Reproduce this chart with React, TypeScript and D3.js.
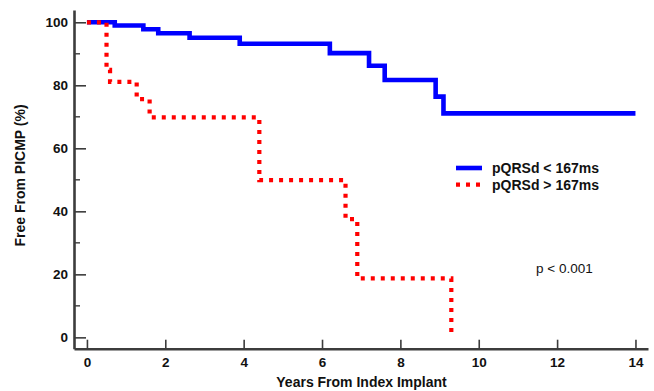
import { useEffect, useRef } from "react";
import * as d3 from "d3";

// Kaplan-Meier steps
const lowTimes = [0, 0.71, 1.44, 1.82, 2.62, 3.9, 6.2, 7.2, 7.6, 8.9, 9.1, 14];
const lowFree = [100, 99, 97.8, 96.5, 95.1, 93.2, 90.2, 86.2, 81.7, 76.4, 71.1, 71.1];
const highTimes = [0, 0.5, 0.59, 1.27, 1.6, 4.4, 6.6, 6.9, 9.3, 9.3];
const highFree = [100, 84.9, 81.1, 75.6, 69.8, 49.9, 37.5, 18.7, 18.7, 0];

const xTicks = [0, 2, 4, 6, 8, 10, 12, 14];
const yTicks = [0, 20, 40, 60, 80, 100];
const yMinorTicks = [10, 30, 50, 70, 90];
const seriesLabels = ["pQRSd < 167ms", "pQRSd > 167ms"];

const FONT = "'Liberation Sans', Arial, Helvetica, sans-serif";
const AXIS = "#3c3c3c";

export default function App() {
  const ref = useRef<SVGSVGElement>(null);

  useEffect(() => {
    if (!ref.current) return;
    const svg = d3.select(ref.current);
    svg.selectAll("*").remove();

    const x = d3.scaleLinear().domain([-0.33, 14.32]).range([74, 648]);
    const y = d3.scaleLinear().domain([-3.6, 103.9]).range([348.7, 10]);

    // Y axis, ticks pointing inward
    const yAxis = svg.append("g").attr("transform", `translate(${x(-0.33)},0)`);
    yAxis.call(
      d3.axisLeft(y).tickValues(yTicks).tickSize(-12).tickSizeOuter(0).tickPadding(6)
    );
    yAxis.select(".domain").attr("stroke", AXIS).attr("stroke-width", 2.6);
    yAxis.selectAll(".tick line").attr("stroke", AXIS).attr("stroke-width", 1.6);
    yAxis
      .selectAll(".tick text")
      .attr("fill", "#111")
      .style("font-family", FONT)
      .style("font-size", "13.5px")
      .style("font-weight", "bold");
    yAxis
      .selectAll(".minor")
      .data(yMinorTicks)
      .join("line")
      .attr("x1", 0)
      .attr("x2", 6)
      .attr("y1", (d) => y(d))
      .attr("y2", (d) => y(d))
      .attr("stroke", AXIS)
      .attr("stroke-width", 1.4);

    // X axis, ticks pointing up
    const xAxis = svg.append("g").attr("transform", `translate(0,${y(-3.6)})`);
    xAxis.call(
      d3.axisBottom(x).tickValues(xTicks).tickSize(-9).tickSizeOuter(0).tickPadding(9)
    );
    xAxis.select(".domain").attr("stroke", AXIS).attr("stroke-width", 2.6);
    xAxis.selectAll(".tick line").attr("stroke", AXIS).attr("stroke-width", 1.6);
    xAxis
      .selectAll(".tick text")
      .attr("fill", "#111")
      .style("font-family", FONT)
      .style("font-size", "13.5px")
      .style("font-weight", "bold");

    // Axis titles
    svg
      .append("text")
      .attr("transform", `translate(25,175.5) rotate(-90)`)
      .attr("text-anchor", "middle")
      .attr("fill", "#111")
      .style("font-family", FONT)
      .style("font-size", "14px")
      .style("font-weight", "bold")
      .text("Free From PICMP (%)");

    svg
      .append("text")
      .attr("x", 361.5)
      .attr("y", 387)
      .attr("text-anchor", "middle")
      .attr("fill", "#111")
      .style("font-family", FONT)
      .style("font-size", "14px")
      .style("font-weight", "bold")
      .text("Years From Index Implant");

    // Curves
    const line = d3
      .line<[number, number]>()
      .x((d) => x(d[0]))
      .y((d) => y(d[1]))
      .curve(d3.curveStepAfter);

    svg
      .append("path")
      .datum(lowTimes.map((t, i) => [t, lowFree[i]] as [number, number]))
      .attr("d", line)
      .attr("fill", "none")
      .attr("stroke", "#0000ff")
      .attr("stroke-width", 4.6);

    svg
      .append("path")
      .datum(highTimes.map((t, i) => [t, highFree[i]] as [number, number]))
      .attr("d", line)
      .attr("fill", "none")
      .attr("stroke", "#ff0000")
      .attr("stroke-width", 4.2)
      .attr("stroke-dasharray", "4,6");

    // Legend
    const legend = svg.append("g").attr("transform", "translate(456,168)");
    seriesLabels.forEach((label, i) => {
      const ly = i * 16.6;
      legend
        .append("line")
        .attr("x1", 0)
        .attr("x2", 26)
        .attr("y1", ly)
        .attr("y2", ly)
        .attr("stroke", i === 0 ? "#0000ff" : "#ff0000")
        .attr("stroke-width", i === 0 ? 4.6 : 4.2)
        .attr("stroke-dasharray", i === 0 ? null : "4,6");
      legend
        .append("text")
        .attr("x", 36)
        .attr("y", ly + 5)
        .attr("fill", "#111")
        .style("font-family", FONT)
        .style("font-size", "14px")
        .style("font-weight", "bold")
        .text(label);
    });

    svg
      .append("text")
      .attr("x", 536)
      .attr("y", 273)
      .attr("fill", "#111")
      .style("font-family", FONT)
      .style("font-size", "13.5px")
      .text("p < 0.001");
  }, []);

  return (
    <svg
      ref={ref}
      width={654}
      height={391}
      style={{ position: "absolute", left: 0, top: 0, background: "#fff" }}
    />
  );
}
